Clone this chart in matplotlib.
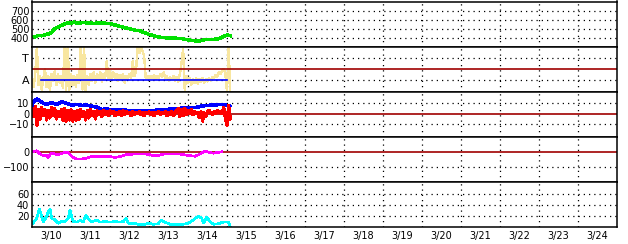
import matplotlib
matplotlib.use("Agg")
import matplotlib.pyplot as plt
import numpy as np

plt.rcParams["font.family"] = ["DejaVu Sans"]

# x axis: hours since 3/10 00:00
day_labels = ["3/10", "3/11", "3/12", "3/13", "3/14", "3/15", "3/16", "3/17",
              "3/18", "3/19", "3/20", "3/21", "3/22", "3/23", "3/24"]

# panel 1 (green), 2-hourly from 0 h
green_hours = list(range(0, 124, 2))
green_vals = [412, 408, 425, 420, 432, 440, 455, 500, 515, 535, 550, 565, 560, 572,
              558, 562, 570, 560, 565, 555, 562, 558, 565, 556, 555, 545, 535, 525,
              515, 505, 498, 488, 480, 478, 462, 450, 435, 425, 415, 405, 402, 398,
              396, 392, 394, 390, 392, 380, 376, 368, 365, 362, 366, 375, 380, 376,
              380, 385, 395, 415, 428, 420]

# panel 2 (T / A), yellow track, hourly
yellow_hours = list(range(0, 123))
yellow_vals = [0.0, -0.3, 0.3, 1.5, -0.2, 0.2, -0.4, 0.1, 0.5, -0.3,
               0.2, -0.45, 0.3, 0.0, 0.4, -0.2, 0.3, -0.1, 0.2, -0.35,
               1.5, -0.5, 1.5, -0.4, 0.3, -0.2, 0.2, -0.3, 0.25, -0.1,
               1.5, -0.4, 1.5, -0.45, 0.2, -0.2, 0.3, 0.0, 0.35, -0.1,
               0.3, 0.05, 0.35, -0.05, 0.3, 0.1, 0.85, 0.1, 0.4, 0.05,
               0.35, 0.1, 0.3, 0.0, 0.25, 0.05, 0.3, -0.1, 0.2, 0.05,
               0.3, 0.1, 0.85, 0.2, 0.4, 1.5, 1.2, 1.5, 1.3, 1.1,
               0.1, 0.2, 0.05, 0.2, 0.1, 0.25, 0.05, 0.2, 0.1, 0.3,
               0.15, 0.35, 0.1, 0.2, 0.0, 0.15, 0.05, 0.2, 0.0, 0.15,
               -0.05, 0.3, 0.75, 1.4, -0.4, 0.2, -0.1, 0.1, -0.2, 0.05,
               -0.1, 0.1, -0.15, 0.05, -0.05, 0.1, -0.1, 0.05, -0.05, 0.1,
               0.0, 0.15, 0.1, 0.25, 0.15, 0.35, 0.3, 0.45, 0.5, 0.3,
               -0.5, 1.5, -0.5]
a_line_hours = [5.5, 120]
a_line_vals = [0, 0]

# panel 3 (blue / red)
blue_hours = [0, 0.6, 2.9, 4.9, 6.8, 9, 12.1, 15.2, 18.3, 21.3, 24.4, 27.5, 30.6,
              33.6, 36.7, 39.8, 42.9, 45.9, 49, 52.1, 55.2, 58.2, 63.4, 69.5,
              75.7, 81.8, 88, 94.2, 100.3, 104.4, 108.3, 112.6, 116.7, 119.8, 121.8]
blue_vals = [8, 10.7, 14, 12.3, 10, 9, 10.7, 9, 11.3, 10, 8, 9, 8, 8.3, 7.3, 6.3,
             4, 4.7, 3.3, 4, 4, 3.3, 3, 2.3, 3.3, 4, 4.7, 5.7, 5.7, 7.3, 8, 8.3,
             9, 8, 7.3]
red_hours = list(range(0, 123))
red_vals = [5, -3, 7, -11, 4, -5, 6, -2, 4, -6,
            3, -4, 6, -2, 5, -5, 2, -3, 4, -6,
            5, -7, 3, -6, 4, -7, 2, -6, 3, -5,
            4, -3, 2, -6, 3, -4, 4, -2, 2, -5,
            3, -1, 2, -3, 3, -1, 2, -2, 3, 0,
            2, -2, 1, -1, 2, -2, 3, -1, 2, 0,
            1, -2, 2, -1, 1, 0, 2, -1, 1, -2,
            1, 0, 2, -1, 1, -2, 1, 0, 2, -1,
            1, 0, 2, -2, 1, -1, 2, -2, 1, 3,
            5, -3, 4, -2, 5, -1, 3, 0, 4, -1,
            2, 0, 1, -4, 2, -7, 1, -3, 2, 3,
            1, -1, 2, 0, 3, 1, 2, 0, 6, -4,
            -11, 8, -5]

# panel 4 (magenta)
mag_hours = [0.6, 2.9, 4.9, 7, 9, 10, 11.1, 12.1, 14.2, 16.2, 18.3, 20.3, 22.3,
             23.4, 25.4, 27.5, 30.6, 33.6, 36.7, 39.8, 43.9, 48, 51.1, 54.2, 58.2,
             62.3, 66.5, 70.5, 74.6, 77.7, 80.8, 84.9, 91.1, 96.2, 100.3, 103.4,
             106.5, 108.5, 111.6, 115.7, 116.7]
mag_vals = [2, 7, -15, -24, -24, -38, -18, -7, -15, -18, -11, -4, -4, -18, -38,
            -47, -47, -42, -31, -29, -31, -31, -38, -31, -18, -15, -15, -15, -24,
            -24, -15, -15, -15, -24, -29, -15, 7, -2, -9, -2, 0]

# panel 5 (cyan)
cyan_hours = [0.6, 2.9, 4.5, 6, 7, 9, 10, 11.1, 12.1, 14.2, 16.2, 18.3, 20.3, 22.3,
              23.4, 24.4, 25.4, 27.5, 29.5, 31.6, 33.2, 34.6, 36.7, 39.8, 41.8,
              44.9, 48, 51.1, 54.2, 56.2, 57.8, 59.3, 62.3, 65.4, 68.5, 71.5, 74.6,
              77.7, 79.4, 81.8, 84.9, 89, 93.1, 96.2, 99.3, 102.3, 104.4, 105.8,
              107.5, 109.5, 111.6, 114.7, 117.7, 120.8, 121.8]
cyan_vals = [7, 16, 33, 19, 10, 19, 28, 33, 16, 13, 7, 10, 10, 16, 31, 19, 10, 9,
             12, 10, 22, 15, 9, 13, 9, 10, 9, 10, 9, 10, 16, 7, 7, 5, 4, 7, 5, 6,
             12, 9, 5, 4, 5, 7, 13, 20, 16, 7, 18, 10, 5, 6, 9, 9, 2]

DARKRED = "#a00000"
fig = plt.figure(figsize=(6.28, 2.44), dpi=100)
left, right = 32 / 628, 617 / 628
top_px, panel_px = 1.5, 45.1
axes = []
for k in range(5):
    y0 = 1 - (top_px + panel_px * (k + 1)) / 244
    ax = fig.add_axes([left, y0, right - left, panel_px / 244])
    axes.append(ax)

grid_kw = dict(color="black", linewidth=0.9, linestyle=(0, (1, 3.2)))

for ax in axes:
    ax.set_xlim(0, 360)
    ax.set_xticks(np.arange(24, 360, 24))
    ax.tick_params(length=0, labelsize=7, pad=2)
    ax.grid(True, **grid_kw)
    for s in ax.spines.values():
        s.set_linewidth(1.1)
    ax.set_axisbelow(True)

for ax in axes[:-1]:
    ax.tick_params(labelbottom=False)

ax1, ax2, ax3, ax4, ax5 = axes

ax1.plot(green_hours, green_vals, color="#00e000", linewidth=1.8, antialiased=False)
ax1.set_ylim(300, 800)
ax1.set_yticks([400, 500, 600, 700])

ax2.plot(yellow_hours, yellow_vals, color="#f8e6a0", linewidth=1.0, antialiased=False)
ax2.axhline(0.5, color=DARKRED, linewidth=1.2)
ax2.plot(a_line_hours, a_line_vals, color="#0000ff", linewidth=1.2)
ax2.set_ylim(-0.5, 1.5)
ax2.set_yticks([0, 1])
ax2.set_yticklabels(["A", "T"])
ax2.tick_params(axis="y", labelsize=8)

ax3.axhline(0, color=DARKRED, linewidth=1.2)
ax3.plot(blue_hours, blue_vals, color="#0000ff", linewidth=1.8, antialiased=False)
ax3.plot(red_hours, red_vals, color="#ff0000", linewidth=1.6, antialiased=False)
ax3.set_ylim(-22, 21)
ax3.set_yticks([-10, 0, 10])
ax3.yaxis.get_gridlines()[1].set_visible(False)

ax4.axhline(0, color=DARKRED, linewidth=1.2)
ax4.plot(mag_hours, mag_vals, color="#ff00ff", linewidth=1.2, antialiased=False)
ax4.set_ylim(-200, 100)
ax4.set_yticks([-100, 0])
ax4.yaxis.get_gridlines()[1].set_visible(False)

ax5.plot(cyan_hours, cyan_vals, color="#00ffff", linewidth=1.2, antialiased=False)
ax5.set_ylim(0, 83)
ax5.set_yticks([20, 40, 60])

# day labels centred on each day
ax5.set_xticks(np.arange(12, 360, 24), minor=True)
ax5.set_xticklabels(day_labels, minor=True)
ax5.tick_params(which="minor", length=0, labelsize=7, pad=3)
ax5.tick_params(which="major", labelbottom=False)

fig.savefig("out.png", dpi=100)
